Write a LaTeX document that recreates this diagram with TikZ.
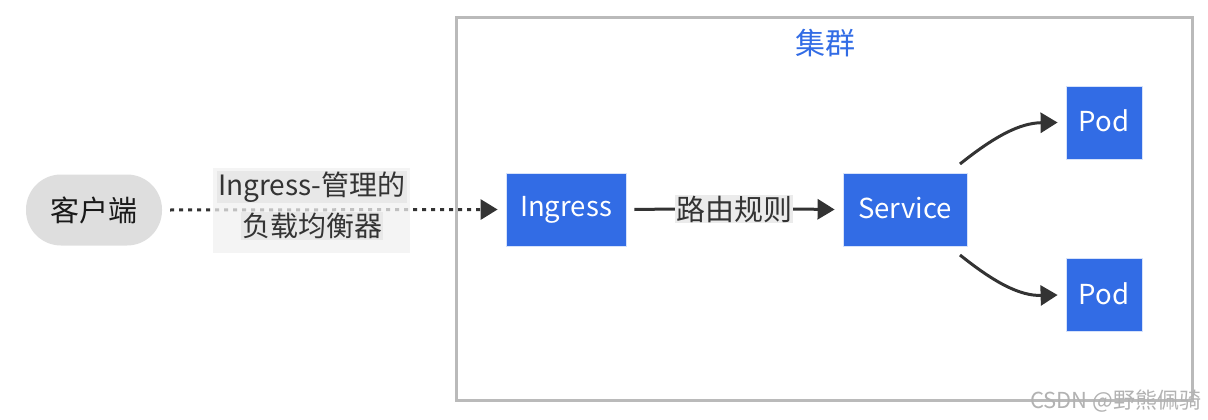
\documentclass[tikz,border=0pt]{standalone}
\usepackage{fontspec}
\setmainfont{Noto Sans CJK SC}
\usetikzlibrary{arrows.meta}
\definecolor{kblue}{HTML}{326CE5}
\definecolor{dark}{HTML}{333333}
\tikzset{
  bluebox/.style={draw=white!80!kblue, line width=0.8pt, fill=kblue, text=white, font=\fontsize{27.5}{32}\selectfont, inner sep=0pt},
  conn/.style={draw=dark, line width=3pt, -{Triangle[length=17pt,width=20pt]}},
}
\begin{document}
\begin{tikzpicture}[x=1pt,y=-1pt]
\useasboundingbox (0,0) rectangle (1208,420);
% cluster
\node[draw=black!27, line width=3pt, minimum width=736pt, minimum height=382pt, inner sep=0pt] (cluster) at (824,209) {};
\node[text=kblue, font=\fontsize{30}{34}\selectfont] (title) at (825,43) {集群};
% client
\node[fill=black!13, rounded corners=35pt, minimum width=136pt, minimum height=71pt, inner sep=0pt, font=\fontsize{29}{32}\selectfont, text=black!90] (client) at (94,210) {客户端};
% boxes
\node[bluebox, minimum width=120pt, minimum height=73pt] (ing) at (566,209.5) {\raisebox{3pt}{Ingress}};
\node[bluebox, minimum width=124pt, minimum height=73pt] (svc) at (905,209.5) {\raisebox{3pt}{Service}};
\node[bluebox, minimum width=76pt, minimum height=73pt] (pod1) at (1104,122.5) {\raisebox{3pt}{Pod}};
\node[bluebox, minimum width=76pt, minimum height=73pt] (pod2) at (1104,295) {\raisebox{3pt}{Pod}};
% dotted edge with label
\draw[conn, dash pattern=on 4pt off 5pt] ([xshift=8pt]client.east) -- ([xshift=-8pt]ing.west);
\node[fill=black!6, fill opacity=0.75, minimum width=197pt, minimum height=85pt, inner sep=0pt] (lbl1) at (311.5,210.5) {};
\node[text=dark, font=\fontsize{28}{32}\selectfont, fill=black!9, inner sep=1pt] (l1a) at (312,187) {Ingress-管理的};
\node[text=dark, font=\fontsize{28}{32}\selectfont, fill=black!9, inner sep=1pt] (l1b) at (312,226) {负载均衡器};
% routing edge
\node[fill=black!8, inner sep=1pt, text=dark, font=\fontsize{29}{32}\selectfont] (lbl2) at (734,209) {路由规则};
\draw[draw=dark, line width=3pt] ([xshift=8pt]ing.east) -- (lbl2.west);
\draw[conn] (lbl2.east) -- ([xshift=-8pt]svc.west);
\coordinate (s1) at (960,164);
\coordinate (s2) at (960,255);
\draw[conn] (s1) .. controls (995,136) and (1020,123) .. ([xshift=-8pt]pod1.west);
\draw[conn] (s2) .. controls (995,283) and (1020,296) .. ([xshift=-8pt]pod2.west);
% watermark
\node[text=black!30, font=\fontsize{22}{24}\selectfont, anchor=east] (wm) at (1205,401) {CSDN @野熊佩骑};
\end{tikzpicture}
\end{document}
